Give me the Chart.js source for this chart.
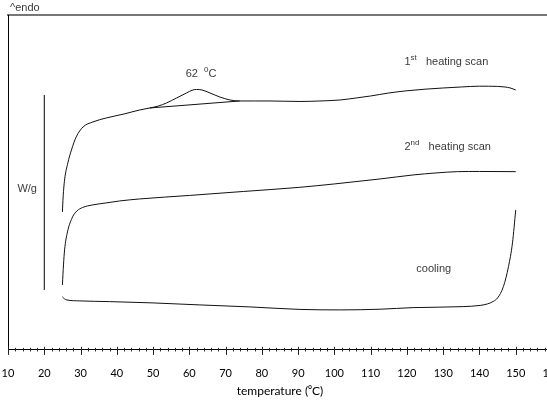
<!DOCTYPE html>
<html>
<head>
<meta charset="utf-8">
<script src="https://cdn.jsdelivr.net/npm/chart.js@4.4.1/dist/chart.umd.min.js"></script>
<style>
  html, body { margin: 0; padding: 0; background: #fff; overflow: hidden; }
  #wrap { width: 600px; height: 403px; }
</style>
</head>
<body>
<div id="wrap"><canvas id="dsc" width="600" height="403"></canvas></div>
<script>
// DSC thermogram: heat flow (arbitrary W/g units) vs temperature in degC
const HEAT1_T = [25.0, 25.2, 25.6, 26.5, 27.5, 28.8, 30.7, 33.4, 37.1, 42.0, 46.3, 49.1, 51.5, 53.7, 56.5, 59.2, 61.0, 62.0, 63.5, 65.7, 68.4, 71.2, 73.9, 78.0, 82.2, 90.5, 96.0, 101.6, 106.0, 110.0, 115.0, 120.0, 125.0, 130.0, 135.0, 140.0, 145.0, 147.0, 148.5, 150.0];
const HEAT1_Q = [13.8, 15.3, 17.0, 18.7, 20.0, 21.3, 22.3, 22.8, 23.2, 23.6, 24.0, 24.2, 24.4, 24.7, 25.2, 25.7, 26.0, 26.05, 26.0, 25.7, 25.3, 25.0, 24.9, 24.9, 24.9, 24.85, 24.9, 25.0, 25.2, 25.4, 25.7, 25.92, 26.08, 26.2, 26.3, 26.38, 26.36, 26.3, 26.2, 26.0];

const HEAT2_T = [25.0, 25.3, 25.6, 26.4, 27.8, 29.0, 30.6, 33.3, 37.0, 40.8, 46.3, 60.0, 75.0, 90.0, 100.0, 112.6, 121.7, 128.0, 133.9, 140.0, 150.0];
const HEAT2_Q = [6.5, 8.5, 10.0, 11.8, 13.3, 13.9, 14.25, 14.5, 14.7, 14.9, 15.1, 15.45, 15.85, 16.25, 16.6, 17.1, 17.5, 17.7, 17.83, 17.85, 17.83];

const COOL_T = [25.0, 25.6, 26.2, 29.8, 38.0, 50.0, 62.9, 76.7, 90.5, 101.6, 112.6, 121.7, 135.5, 140.2, 142.2, 143.8, 145.0, 146.6, 148.0, 149.1, 150.0];
const COOL_Q = [5.3, 5.1, 5.0, 4.9, 4.83, 4.7, 4.5, 4.3, 4.05, 4.0, 4.07, 4.23, 4.33, 4.45, 4.6, 4.85, 5.2, 6.33, 8.33, 10.7, 14.0];

// integration baseline under the 62 degC melting peak
const PEAK_BASE_T = [49.1, 73.9];
const PEAK_BASE_Q = [24.2, 24.9];

// W/g scale bar
const SCALE_BAR_T = [20, 20];
const SCALE_BAR_Q = [6.0, 25.5];

const TEMP_MIN = 10;
const TEMP_MAX = 160;
const TEMP_LABEL_STEP = 10;
const TEMP_MINOR_STEP = 2;

// text placed in data coordinates; [text, isSuperscript]
const NOTES = [
  { t: 59.0, q: 27.6, parts: [["62  ", 0], ["0", 1], ["C", 0]] },
  { t: 119.3, q: 28.8, parts: [["1", 0], ["st", 1], ["   heating scan", 0]] },
  { t: 119.3, q: 20.3, parts: [["2", 0], ["nd", 1], ["   heating scan", 0]] },
  { t: 122.6, q: 8.1, parts: [["cooling", 0]] },
  { t: 12.6, q: 16.1, parts: [["W/g", 0]] },
];

const pts = (xs, ys) => xs.map((x, i) => ({ x, y: ys[i] }));

const TEXT_FONT = '"Liberation Sans", Arial, sans-serif';

function drawRich(ctx, x, y, parts, size) {
  let cx = x;
  for (const [txt, sup] of parts) {
    ctx.font = `${sup ? Math.round(size * 0.7) : size}px ${TEXT_FONT}`;
    ctx.fillText(txt, cx, sup ? y - size * 0.38 : y);
    cx += ctx.measureText(txt).width;
  }
}

const annotations = {
  id: "annotations",
  afterDraw(chart) {
    const { ctx, chartArea, scales: { x, y } } = chart;
    ctx.save();

    // tick marks crossing the temperature axis
    ctx.strokeStyle = "#222";
    ctx.lineWidth = 1;
    ctx.beginPath();
    for (const tk of x.ticks) {
      const px = Math.round(x.getPixelForValue(tk.value)) + 0.5;
      const major = tk.value % TEMP_LABEL_STEP === 0;
      ctx.moveTo(px, chartArea.bottom - (major ? 3 : 2));
      ctx.lineTo(px, chartArea.bottom + (major ? 5 : 1.5));
    }
    ctx.stroke();

    ctx.fillStyle = "#3a3a3a";
    ctx.textBaseline = "middle";
    ctx.textAlign = "left";
    for (const n of NOTES) {
      drawRich(ctx, x.getPixelForValue(n.t), y.getPixelForValue(n.q), n.parts, 11);
    }
    drawRich(ctx, chartArea.left + 2, chartArea.top - 7, [["^endo", 0]], 11);
    ctx.restore();
  },
};

const lineStyle = {
  borderColor: "#111",
  borderWidth: 1,
  pointRadius: 0,
  fill: false,
};

new Chart(document.getElementById("dsc"), {
  type: "line",
  data: {
    datasets: [
      { ...lineStyle, data: pts(HEAT1_T, HEAT1_Q), cubicInterpolationMode: "monotone" },
      { ...lineStyle, data: pts(PEAK_BASE_T, PEAK_BASE_Q) },
      { ...lineStyle, data: pts(HEAT2_T, HEAT2_Q), cubicInterpolationMode: "monotone" },
      { ...lineStyle, data: pts(COOL_T, COOL_Q), cubicInterpolationMode: "monotone" },
      { ...lineStyle, borderColor: "#000", data: pts(SCALE_BAR_T, SCALE_BAR_Q) },
    ],
  },
  options: {
    responsive: false,
    animation: false,
    devicePixelRatio: 1,
    layout: { padding: { left: 8, right: 48, top: 15, bottom: 5 } },
    plugins: { legend: { display: false }, tooltip: { enabled: false } },
    scales: {
      x: {
        type: "linear",
        position: "bottom",
        min: TEMP_MIN,
        max: TEMP_MAX,
        // tick marks are drawn by the plugin; tickLength only spaces the labels
        grid: { display: false, drawTicks: true, tickLength: 15.5 },
        border: { display: true, color: "#000", width: 1 },
        ticks: {
          stepSize: TEMP_MINOR_STEP,
          autoSkip: false,
          maxRotation: 0,
          padding: 1,
          color: "#000",
          font: { family: "Lato, 'DejaVu Sans', sans-serif", size: 11 },
          callback: (v) => (v % TEMP_LABEL_STEP === 0 ? String(v) : ""),
        },
        title: {
          display: true,
          text: "temperature (\u2070C)",
          color: "#000",
          padding: { top: 3, bottom: 0 },
          font: { family: "Lato, 'DejaVu Sans', sans-serif", size: 12 },
        },
      },
      xTop: {
        type: "linear",
        position: "top",
        min: TEMP_MIN,
        max: TEMP_MAX,
        grid: { display: false, drawTicks: false },
        border: { display: true, color: "#777", width: 2 },
        ticks: { display: false },
      },
      y: {
        min: 0,
        max: 33.5,
        grid: { display: false, drawTicks: false },
        border: { display: true, color: "#000", width: 1 },
        ticks: { display: false },
      },
    },
  },
  plugins: [annotations],
});
</script>
</body>
</html>
